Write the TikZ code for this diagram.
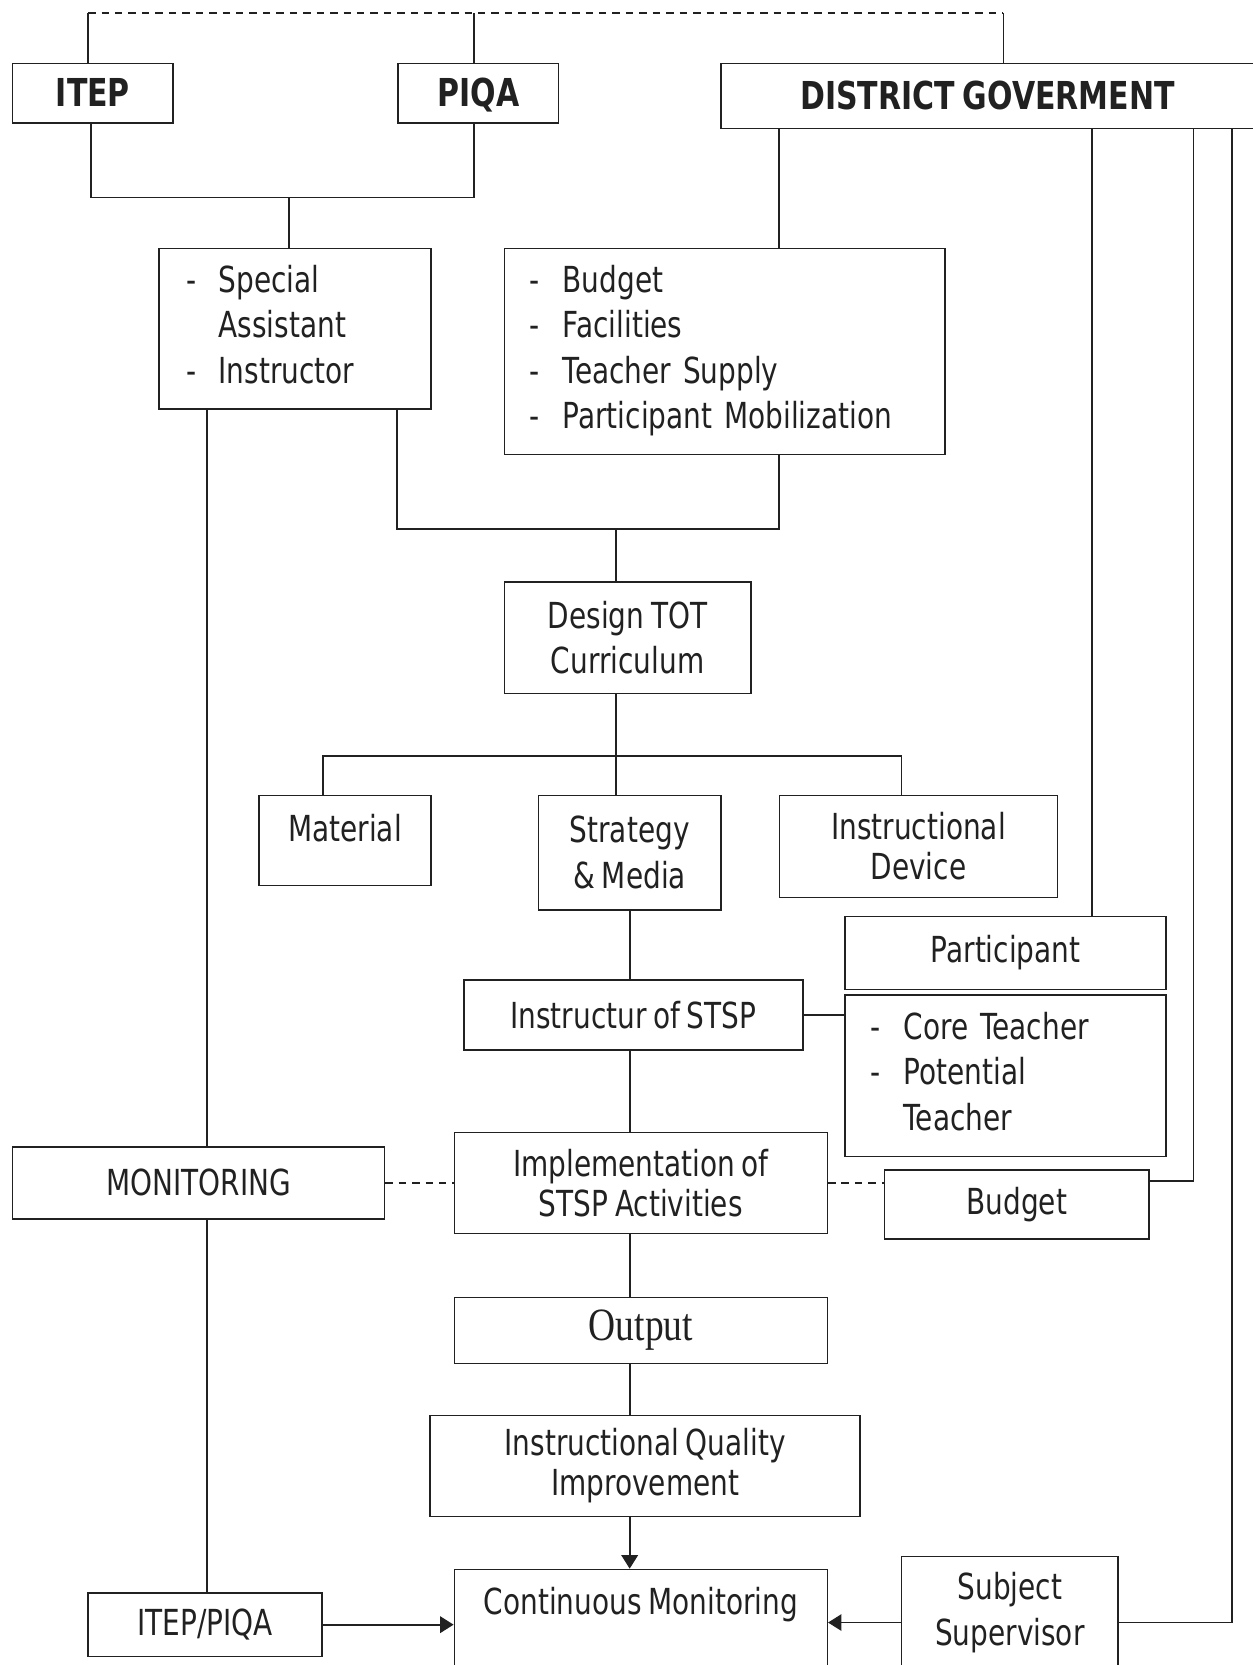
\documentclass[tikz,border=0pt]{standalone}
\usepackage{fontspec}
\setmainfont{DejaVu Sans}[FakeStretch=0.78, WordSpace=0.75]
\newfontfamily\outfont{Liberation Serif}[FakeStretch=0.81]
\usetikzlibrary{arrows.meta}
\definecolor{ink}{gray}{0.13}

\tikzset{
	box/.style={draw=ink, text=ink, rectangle, inner sep=0pt, align=center, font=\fontsize{9.6}{12.2}\selectfont},
	head/.style={box, font=\fontsize{10.3}{12}\selectfont\bfseries, text height=7.6pt, text depth=0.4pt},
	tight/.style={box, font=\fontsize{9.6}{10.8}\selectfont},
	listbox/.style={box, align=left, inner xsep=0.24cm},
	link/.style={draw=ink, line width=0.5pt},
	dash link/.style={link, dash pattern=on 2pt off 1.6pt},
	arr/.style={link, -{Triangle[length=3.6pt,width=4.4pt]}}
}

\begin{document}
\begin{tikzpicture}[x=0.01cm, y=-0.01cm]
	\useasboundingbox (0,0) rectangle (1180,1568);
	\clip (0,0) rectangle (1180,1568);

	% boxes
	\node[head, minimum width=1.51cm, minimum height=0.56cm] (itep) at (87.5,88) {ITEP};
	\node[head, minimum width=1.51cm, minimum height=0.56cm] (piqa) at (450.5,88) {PIQA};
	\node[head, minimum width=5.02cm, minimum height=0.61cm] (dg) at (930,90.5) {DISTRICT GOVERMENT};
	\node[listbox, inner xsep=0.26cm, text width=2.04cm, minimum height=1.51cm] (staff) at (278,309.5)
		{\begin{tabular}{@{}p{0.3cm}@{}l@{}} - & Special\\ & Assistant\\ - & Instructor\end{tabular}};
	\node[listbox, text width=3.67cm, minimum height=1.94cm] (fund) at (682.5,331)
		{\begin{tabular}{@{}p{0.31cm}@{}l@{}} - & Budget\\ - & Facilities\\ - & Teacher Supply\\ - & Participant Mobilization\end{tabular}};
	\node[box, minimum width=2.32cm, minimum height=1.05cm] (design) at (591,600.5) {Design TOT\\Curriculum};
	\node[box, minimum width=1.62cm, minimum height=0.85cm, text height=8pt, text depth=7.4pt] (mat) at (325,791.5) {Material};
	\node[box, minimum width=1.72cm, minimum height=1.08cm] (strat) at (593,803) {Strategy\\\& Media};
	\node[tight, minimum width=2.62cm, minimum height=0.96cm] (idev) at (865,797) {Instructional\\Device};
	\node[box, minimum width=3.02cm, minimum height=0.69cm] (part) at (947,897.5) {Participant};
	\node[listbox, text width=2.54cm, minimum height=1.52cm] (core) at (947,1013)
		{\begin{tabular}{@{}p{0.31cm}@{}l@{}} - & Core Teacher\\ - & Potential\\ & Teacher\end{tabular}};
	\node[box, minimum width=3.19cm, minimum height=0.66cm] (instr) at (596.5,956) {Instructur of STSP};
	\node[box, minimum width=3.50cm, minimum height=0.68cm] (mon) at (187,1114) {MONITORING};
	\node[tight, minimum width=3.51cm, minimum height=0.95cm] (impl) at (603.5,1114) {Implementation of\\STSP Activities};
	\node[box, minimum width=2.49cm, minimum height=0.65cm] (bud) at (957.5,1134.5) {Budget};
	\node[box, font=\outfont\fontsize{12.4}{14}\selectfont, minimum width=3.51cm, minimum height=0.62cm] (outp) at (603.5,1253) {Output};
	\node[tight, minimum width=4.05cm, minimum height=0.95cm] (iqi) at (607.5,1380.5) {Instructional Quality\\Improvement};
	\node[box, minimum width=3.51cm, minimum height=1.22cm, text height=8pt, text depth=18.5pt] (cont) at (603.5,1539) {Continuous Monitoring};
	\node[box, minimum width=2.20cm, minimum height=0.60cm] (itpq) at (193,1530) {ITEP/PIQA};
	\node[box, minimum width=2.04cm, minimum height=1.05cm] (subj) at (951,1518.5) {Subject\\Supervisor};

	% corners of the connectors
	\coordinate (tl) at (83,12);
	\coordinate (tm) at (446,12);
	\coordinate (tr) at (945,12);
	\coordinate (ja) at (86,186);
	\coordinate (jb) at (272,186);
	\coordinate (jc) at (374,498);
	\coordinate (jd) at (580,498);
	\coordinate (je) at (304,712);
	\coordinate (jg) at (849,712);
	\coordinate (mx) at (195,0);
	\coordinate (cx) at (593,0);
	\coordinate (ra) at (734,0);
	\coordinate (rb) at (1028,0);
	\coordinate (rc) at (1124,1112);
	\coordinate (rd) at (1160,1528);

	% top
	\draw[dash link] (tl) -- (tr);
	\draw[link] (tl) -- (tl |- itep.north);
	\draw[link] (tm) -- (tm |- piqa.north);
	\draw[link] (tr) -- (tr |- dg.north);
	\draw[link] (ja |- itep.south) -- (ja) -- (ja -| tm) -- (tm |- piqa.south);
	\draw[link] (jb) -- (jb |- staff.north);
	\draw[link] (ra |- dg.south) -- (ra |- fund.north);
	\draw[link] (jc |- staff.south) -- (jc) -- (jc -| ra) -- (ra |- fund.south);
	\draw[link] (jd) -- (jd |- design.north);

	% curriculum
	\draw[link] (jd |- design.south) -- (jd |- strat.north);
	\draw[link] (je |- mat.north) -- (je) -- (jg) -- (jg |- idev.north);
	\draw[link] (cx |- strat.south) -- (cx |- instr.north);
	\draw[link] (instr.east) -- (instr.east -| core.west);

	% district lines
	\draw[link] (rb |- dg.south) -- (rb |- part.north);
	\draw[link] (rc |- dg.south) -- (rc) -- (rc -| bud.east);
	\draw[link] (rd |- dg.south) -- (rd) -- (rd -| subj.east);

	% implementation
	\draw[link] (cx |- instr.south) -- (cx |- impl.north);
	\draw[dash link] (mon.east) -- (impl.west);
	\draw[dash link] (impl.east) -- (impl.east -| bud.west);
	\draw[link] (mx |- staff.south) -- (mx |- mon.north);
	\draw[link] (mx |- mon.south) -- (mx |- itpq.north);
	\draw[link] (cx |- impl.south) -- (cx |- outp.north);
	\draw[link] (cx |- outp.south) -- (cx |- iqi.north);
	\draw[arr] (cx |- iqi.south) -- (cx |- cont.north);
	\draw[arr] (itpq.east) -- (itpq.east -| cont.west);
	\draw[arr] (subj.west |- rd) -- (rd -| cont.east);
\end{tikzpicture}
\end{document}
